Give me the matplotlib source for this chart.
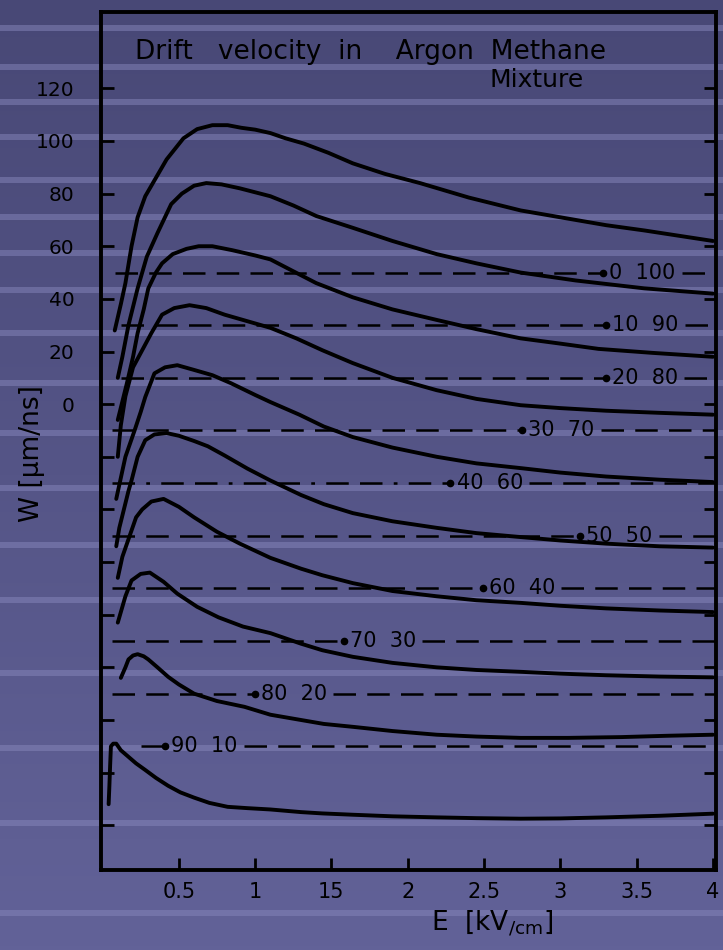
import numpy as np
import matplotlib.pyplot as plt

# Drift velocity in Argon/Methane
# E in kV/cm, W in um/ns (curves are stacked, each one shifted)
E1 = [0.08, 0.12, 0.15, 0.19, 0.23, 0.28, 0.34, 0.42, 0.53, 0.62, 0.72, 0.82, 0.91, 1.00, 1.10,
      1.20, 1.32, 1.48, 1.64, 1.85, 2.08, 2.40, 2.74, 3.10, 3.30, 3.55, 4.0]
W1 = [28, 38, 46, 60, 71, 79, 85, 93, 101, 104.5, 106, 106, 105, 104.3, 103,
      101, 99, 95.5, 91.5, 87.5, 84, 78.5, 73.6, 70, 68, 66, 62]

E2 = [0.10, 0.13, 0.17, 0.23, 0.29, 0.36, 0.45, 0.52, 0.60, 0.68, 0.78, 0.90, 1.00, 1.10,
      1.25, 1.40, 1.64, 1.90, 2.19, 2.45, 2.74, 3.10, 3.55, 4.0]
W2 = [10, 18, 30, 44, 56, 65, 76, 80, 83, 84, 83.5, 82, 80.5, 79,
      75.5, 71.5, 67, 62, 57, 53.5, 50, 47, 44, 42]

E3 = [0.10, 0.13, 0.16, 0.20, 0.23, 0.27, 0.30, 0.35, 0.39, 0.46, 0.55, 0.63, 0.72, 0.85,
      1.00, 1.10, 1.25, 1.40, 1.64, 1.90, 2.19, 2.45, 2.74, 3.0, 3.25, 3.6, 4.0]
W3 = [-6, 1, 8, 18, 27, 36, 44, 50, 53.5, 57, 59, 60, 60, 58.5,
      56.5, 55, 50.5, 46, 40.6, 36, 32, 28.5, 25, 23, 21, 19.5, 18]

E4 = [0.10, 0.12, 0.15, 0.20, 0.26, 0.32, 0.39, 0.47, 0.57, 0.68, 0.80, 0.95, 1.10, 1.27,
      1.44, 1.64, 1.90, 2.19, 2.45, 2.74, 3.0, 3.3, 3.65, 4.0]
W4 = [-20, -8, 3, 14, 20.5, 27, 34, 36.5, 37.6, 36.5, 34, 31.5, 29, 25,
      20.5, 15.6, 10, 5.3, 2, -0.4, -1.5, -2.5, -3.3, -4]

E5 = [0.09, 0.12, 0.15, 0.18, 0.21, 0.25, 0.28, 0.34, 0.41, 0.49, 0.60, 0.72, 0.84, 1.00,
      1.10, 1.29, 1.45, 1.64, 1.90, 2.19, 2.45, 2.74, 3.0, 3.3, 3.65, 4.0]
W5 = [-36, -28, -20, -15, -10, -3, 2.7, 11.7, 14, 14.8, 13, 11, 8, 3.5,
      0.8, -4, -8.5, -12.5, -16.5, -20, -22.5, -24.3, -26, -27.5, -28.7, -29.6]

E6 = [0.09, 0.11, 0.14, 0.17, 0.19, 0.23, 0.28, 0.34, 0.42, 0.50, 0.60, 0.69, 0.80, 0.95,
      1.10, 1.30, 1.45, 1.64, 1.90, 2.19, 2.45, 2.74, 3.0, 3.3, 3.65, 4.0]
W6 = [-54, -47, -40, -33, -29, -20, -13.7, -11.5, -11, -12, -14, -16, -19.5, -24.5,
      -29, -34.5, -38, -41.4, -44.5, -47, -49, -50.5, -51.8, -53, -54, -54.5]

E7 = [0.10, 0.13, 0.16, 0.19, 0.22, 0.26, 0.32, 0.40, 0.50, 0.60, 0.75, 0.90, 1.10, 1.30,
      1.44, 1.64, 1.90, 2.19, 2.45, 2.74, 3.0, 3.3, 3.65, 4.0]
W7 = [-66, -58, -53, -48, -43, -40, -37, -36, -39, -43, -48.5, -53, -58.4, -62.5,
      -65, -68, -71, -73, -74.5, -75.5, -76.6, -77.6, -78.4, -79]

E8 = [0.10, 0.13, 0.15, 0.19, 0.25, 0.31, 0.40, 0.49, 0.62, 0.76, 0.92, 1.10, 1.30, 1.44,
      1.64, 1.90, 2.19, 2.45, 2.74, 3.0, 3.3, 3.65, 4.0]
W8 = [-83, -77, -73, -67, -64.5, -64, -67.5, -72, -77, -81, -84.5, -87, -91, -93.5,
      -96, -98.3, -100, -101, -101.7, -102.4, -103, -103.5, -103.8]

E9 = [0.12, 0.15, 0.17, 0.20, 0.23, 0.27, 0.30, 0.36, 0.43, 0.50, 0.60, 0.75, 0.93, 1.10,
      1.30, 1.45, 1.64, 1.90, 2.19, 2.45, 2.74, 3.05, 3.4, 3.7, 4.0]
W9 = [-104, -100, -97, -95.5, -95, -95.8, -97, -100, -103.6, -106.5, -110, -112.8, -115, -118,
      -120, -121.5, -122.6, -124.2, -125.6, -126.3, -126.8, -126.8, -126.5, -126, -125.6]

E10 = [0.04, 0.045, 0.05, 0.055, 0.07, 0.09, 0.12, 0.17, 0.22, 0.28, 0.35, 0.43, 0.51, 0.60,
       0.70, 0.82, 0.95, 1.10, 1.30, 1.44, 1.64, 1.90, 2.19, 2.45, 2.74, 3.0, 3.3, 3.65, 4.0]
W10 = [-152, -145, -137, -130, -129, -129, -131.5, -134, -136.5, -139, -142, -145, -147.5, -149.5,
       -151.5, -153, -153.5, -154, -155, -155.5, -156, -156.6, -157, -157.3, -157.5, -157.4, -157, -156.4, -155.6]

curvas = [(E1, W1), (E2, W2), (E3, W3), (E4, W4), (E5, W5),
          (E6, W6), (E7, W7), (E8, W8), (E9, W9), (E10, W10)]

# mixture labels (Argon Methane) and their dashed reference levels
mezclas = ["0  100", "10  90", "20  80", "30  70", "40  60",
           "50  50", "60  40", "70  30", "80  20", "90  10"]
niveles = [50, 30, 10, -10, -30, -50, -70, -90, -110, -130]
E_etiqueta = [3.28, 3.30, 3.30, 2.75, 2.28, 3.13, 2.49, 1.58, 1.00, 0.41]
E_inicio = [0.08, 0.12, 0.12, 0.06, 0.06, 0.06, 0.06, 0.06, 0.06, 0.25]

yticks = np.arange(-160, 121, 20)
ytick_labels = [str(t) if t >= 0 else "" for t in yticks]
xticks = [0.5, 1, 1.5, 2, 2.5, 3, 3.5, 4]
xtick_labels = ["0.5", "1", "15", "2", "2.5", "3", "3.5", "4"]

# bands of the slide background (pixel rows)
franjas = [28, 67, 102, 137, 180, 217, 253, 290, 333, 383, 433, 488, 545, 600, 673, 748, 823, 913]

W_px, H_px = 723, 950
fig = plt.figure(figsize=(W_px / 100, H_px / 100), dpi=100)

#%% background
bg = fig.add_axes([0, 0, 1, 1], zorder=-5)
grad = np.linspace(0, 1, 256)[:, None]
top = np.array([72, 72, 118]) / 255
bot = np.array([98, 98, 152]) / 255
img = top[None, None, :] * (1 - grad[:, :, None]) + bot[None, None, :] * grad[:, :, None]
bg.imshow(img, aspect="auto", extent=[0, 1, 0, 1])
for f in franjas:
    yc = 1 - f / H_px
    bg.axhspan(yc - 3 / H_px, yc + 3 / H_px, color="#8686bb", alpha=0.5, lw=0)
bg.set_xlim(0, 1)
bg.set_ylim(0, 1)
bg.axis("off")

#%% main axes
ax = fig.add_axes([101 / W_px, 1 - 870 / H_px, (716 - 101) / W_px, (870 - 12) / H_px])
ax.set_facecolor("none")

for E, W in curvas:
    ax.plot(E, W, "-", color="k", lw=2.8, solid_joinstyle="round", solid_capstyle="round")

ax.set_xlim(-0.01, 4.02)
ax.set_ylim(-177, 149)

for sp in ax.spines.values():
    sp.set_linewidth(2.8)
    sp.set_color("k")

ax.set_yticks(yticks)
ax.set_yticklabels(ytick_labels)
ax.set_xticks(xticks)
ax.set_xticklabels(xtick_labels)
ax.tick_params(axis="y", direction="in", length=9, width=2, left=True, right=True,
               labelsize=14.5, pad=19, colors="k")
ax.tick_params(axis="x", direction="in", length=9, width=2, labelsize=15, pad=9, colors="k")

textos = []
for lab, niv, xe in zip(mezclas, niveles, E_etiqueta):
    ax.plot(xe, niv, "o", color="k", ms=4.5)
    t = ax.text(xe + 0.04, niv, lab, fontsize=15, va="center", ha="left", color="k")
    textos.append(t)

fig.canvas.draw()
rend = fig.canvas.get_renderer()
inv = ax.transData.inverted()
for i, niv in enumerate(niveles):
    estilo = (0, (9, 4.5, 1.5, 4.5, 9, 4.5)) if mezclas[i] == "40  60" else (0, (9, 4.5))
    bb = textos[i].get_window_extent(rend)
    x_fin = inv.transform((bb.x1, bb.y0))[0] + 0.04
    ax.plot([E_inicio[i], E_etiqueta[i]], [niv, niv], color="k", lw=1.8, ls=estilo)
    ax.plot([x_fin, 4.02], [niv, niv], color="k", lw=1.8, ls=(0, (9, 4.5)))

# texts
fig.text(135 / W_px, 1 - 52 / H_px, "Drift   velocity  in    Argon  Methane", fontsize=19,
         va="center", ha="left", color="k")
fig.text(490 / W_px, 1 - 80 / H_px, "Mixture", fontsize=18, va="center", ha="left", color="k")
fig.text(32 / W_px, 1 - 454 / H_px, "W [\u03bcm/ns]", fontsize=19, rotation=90,
         va="center", ha="center", color="k")
fig.text(492 / W_px, 1 - 924 / H_px, r"E  $\left[\mathrm{kV}_{/\mathrm{cm}}\right]$", fontsize=19,
         va="center", ha="center", color="k")

fig.savefig("out.png", dpi=100, facecolor=fig.get_facecolor())
